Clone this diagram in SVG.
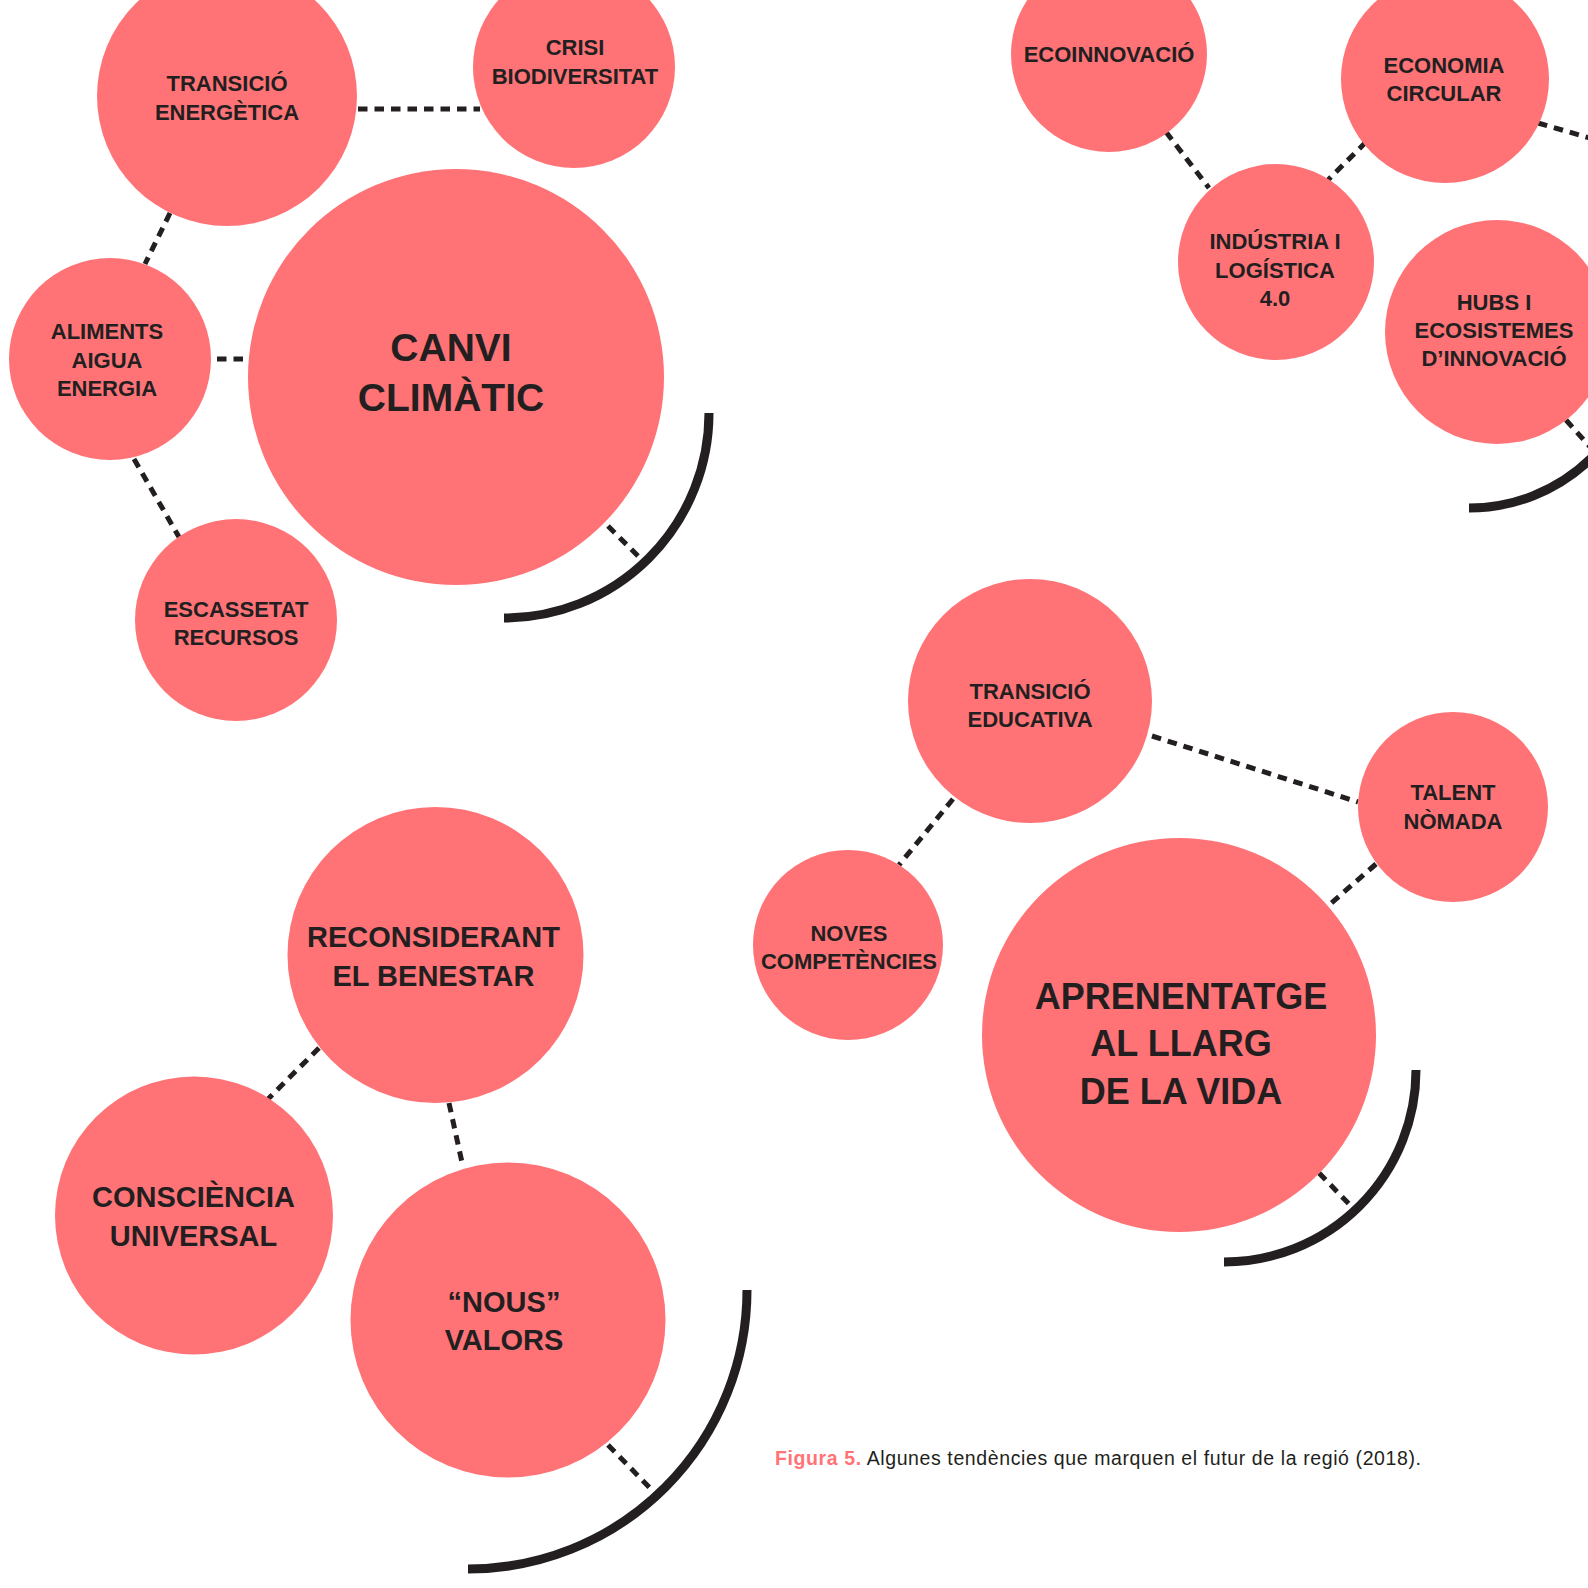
<svg xmlns="http://www.w3.org/2000/svg" width="1588" height="1588" viewBox="0 0 1588 1588">
<style>
.c{fill:#ff7377}
.t{font-family:"Liberation Sans",Arial,sans-serif;font-weight:bold;fill:#231f20;text-anchor:middle}
.s{font-size:22px}
.m{font-size:29px}
.l{font-size:39px}
.x{font-size:36px}
.d{stroke:#231f20;stroke-width:5;stroke-dasharray:9.5 7;fill:none}
.a{stroke:#231f20;stroke-width:9;fill:none}
.cap{font-family:"Liberation Sans",Arial,sans-serif;font-size:19.5px;fill:#231f20}
</style>
<rect width="1588" height="1588" fill="#ffffff"/>
<g id="connectors">
<line class="d" x1="358" y1="109" x2="480" y2="109"/>
<line class="d" x1="170" y1="213" x2="145" y2="264"/>
<line class="d" x1="217" y1="359" x2="248" y2="359"/>
<line class="d" x1="134" y1="459" x2="179" y2="537"/>
<line class="d" x1="608" y1="526" x2="638" y2="556"/>
<path class="a" d="M 709 413 A 205 205 0 0 1 504 618"/>
<line class="d" x1="1166" y1="132" x2="1209" y2="188"/>
<line class="d" x1="1366" y1="142" x2="1328" y2="180"/>
<line class="d" x1="1538" y1="123" x2="1600" y2="141"/>
<line class="d" x1="1566" y1="420" x2="1600" y2="458"/>
<path class="a" d="M 1644 333 A 175 175 0 0 1 1469 508"/>
<line class="d" x1="1152" y1="736" x2="1358" y2="802"/>
<line class="d" x1="953" y1="799" x2="899" y2="865"/>
<line class="d" x1="1376" y1="864" x2="1328" y2="906"/>
<line class="d" x1="1319" y1="1173" x2="1352" y2="1207"/>
<path class="a" d="M 1416 1070 A 192 192 0 0 1 1224 1262"/>
<line class="d" x1="319" y1="1048" x2="268" y2="1099"/>
<line class="d" x1="449" y1="1103" x2="463" y2="1167"/>
<line class="d" x1="608" y1="1445" x2="653" y2="1491"/>
<path class="a" d="M 747 1290 A 279 279 0 0 1 468 1569"/>
</g>
<g id="n-transicio-energetica"><circle class="c" cx="227" cy="96" r="130"/><text class="t s" x="227" y="91">TRANSICIÓ</text><text class="t s" x="227" y="120">ENERGÈTICA</text></g>
<g id="n-crisi-biodiversitat"><circle class="c" cx="574" cy="67" r="101"/><text class="t s" x="575" y="55">CRISI</text><text class="t s" x="575" y="84">BIODIVERSITAT</text></g>
<g id="n-canvi-climatic"><circle class="c" cx="456" cy="377" r="208"/><text class="t l" x="451" y="361">CANVI</text><text class="t l" x="451" y="411">CLIMÀTIC</text></g>
<g id="n-aliments"><circle class="c" cx="110" cy="359" r="101"/><text class="t s" x="107" y="339">ALIMENTS</text><text class="t s" x="107" y="368">AIGUA</text><text class="t s" x="107" y="396">ENERGIA</text></g>
<g id="n-escassetat"><circle class="c" cx="236" cy="620" r="101"/><text class="t s" x="236" y="617">ESCASSETAT</text><text class="t s" x="236" y="645">RECURSOS</text></g>
<g id="n-ecoinnovacio"><circle class="c" cx="1109" cy="54" r="98"/><text class="t s" x="1109" y="62">ECOINNOVACIÓ</text></g>
<g id="n-economia-circular"><circle class="c" cx="1445" cy="79" r="104"/><text class="t s" x="1444" y="73">ECONOMIA</text><text class="t s" x="1444" y="101">CIRCULAR</text></g>
<g id="n-industria"><circle class="c" cx="1276" cy="262" r="98"/><text class="t s" x="1275" y="249">INDÚSTRIA I</text><text class="t s" x="1275" y="277.5">LOGÍSTICA</text><text class="t s" x="1275" y="306">4.0</text></g>
<g id="n-hubs"><circle class="c" cx="1497" cy="332" r="112"/><text class="t s" x="1494" y="310">HUBS I</text><text class="t s" x="1494" y="338">ECOSISTEMES</text><text class="t s" x="1494" y="366">D’INNOVACIÓ</text></g>
<g id="n-transicio-educativa"><circle class="c" cx="1030" cy="701" r="122"/><text class="t s" x="1030" y="699">TRANSICIÓ</text><text class="t s" x="1030" y="727">EDUCATIVA</text></g>
<g id="n-talent"><circle class="c" cx="1453" cy="807" r="95"/><text class="t s" x="1453" y="800">TALENT</text><text class="t s" x="1453" y="828.5">NÒMADA</text></g>
<g id="n-noves"><circle class="c" cx="848" cy="945" r="95"/><text class="t s" x="849" y="941">NOVES</text><text class="t s" x="849" y="969">COMPETÈNCIES</text></g>
<g id="n-aprenentatge"><circle class="c" cx="1179" cy="1035" r="197"/><text class="t x" x="1181" y="1009">APRENENTATGE</text><text class="t x" x="1181" y="1056">AL LLARG</text><text class="t x" x="1181" y="1104">DE LA VIDA</text></g>
<g id="n-reconsiderant"><circle class="c" cx="435.5" cy="955" r="148"/><text class="t m" x="433.5" y="947">RECONSIDERANT</text><text class="t m" x="433.5" y="985.5">EL BENESTAR</text></g>
<g id="n-consciencia"><circle class="c" cx="194" cy="1215.5" r="139"/><text class="t m" x="193.5" y="1207">CONSCIÈNCIA</text><text class="t m" x="193.5" y="1246">UNIVERSAL</text></g>
<g id="n-nous-valors"><circle class="c" cx="508" cy="1320" r="157.5"/><text class="t m" x="504" y="1311.5">“NOUS”</text><text class="t m" x="504" y="1350">VALORS</text></g>
<text class="cap" x="775" y="1465" textLength="646" lengthAdjust="spacing"><tspan fill="#ff7377" font-weight="bold">Figura 5.</tspan> Algunes tendències que marquen el futur de la regió (2018).</text>
</svg>
